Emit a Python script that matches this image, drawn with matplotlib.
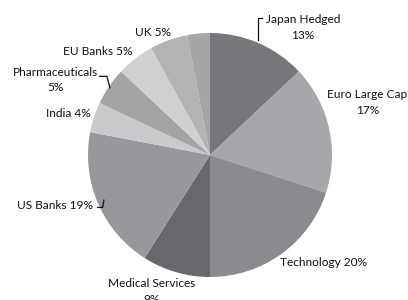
import matplotlib.pyplot as plt

# slices, clockwise from 12 o'clock
names = ["Japan Hedged", "Euro Large Cap", "Technology", "Medical Services",
         "US Banks", "India", "Pharmaceuticals", "EU Banks", "UK", ""]
shares = [13, 17, 20, 9, 19, 4, 5, 5, 5, 3]
labels = ["Japan Hedged\n13%", "Euro Large Cap\n17%", "Technology 20%",
          "Medical Services\n9%", "US Banks 19%", "India 4%",
          "Pharmaceuticals\n5%", "EU Banks 5%", "UK 5%", ""]
colors = ["#76777a", "#a6a7aa", "#8a8b8e", "#67686b", "#97989b",
          "#c9cacc", "#a3a4a6", "#cfd0d2", "#b2b3b5", "#a4a5a7"]

# label centres, in units of the pie radius
label_pos = [(0.76, 1.045), (1.29, 0.43), (0.93, -0.885), (-0.475, -1.12),
             (-1.27, -0.41), (-1.164, 0.344), (-1.27, 0.615), (-0.918, 0.852),
             (-0.467, 1.008), None]

plt.rcParams["font.family"] = ["Lato", "DejaVu Sans"]

fig = plt.figure(figsize=(4.08, 3.0), dpi=100)
ax = fig.add_axes([0, 0, 1, 1])
ax.pie(shares, colors=colors, startangle=90, counterclock=False, radius=1.0,
       wedgeprops=dict(linewidth=0))
ax.set_xlim(-210 / 122, 198 / 122)
ax.set_ylim(-145 / 122, 155 / 122)
ax.set_aspect("auto")
ax.axis("off")

for lab, pos in zip(labels, label_pos):
    if pos is None:
        continue
    ax.text(pos[0], pos[1], lab, ha="center", va="center", fontsize=8.6,
            color="#111111", linespacing=1.5)

# leader lines
lc = dict(color="#111111", linewidth=0.9)
ax.plot([0.393, 0.393, 0.43], [0.94, 1.12, 1.12], **lc)
ax.plot([-0.92, -0.88, -0.87], [-0.43, -0.43, -0.37], **lc)
ax.plot([-0.905, -0.845, -0.82], [0.645, 0.645, 0.55], **lc)

fig.savefig("out.png", dpi=100)
